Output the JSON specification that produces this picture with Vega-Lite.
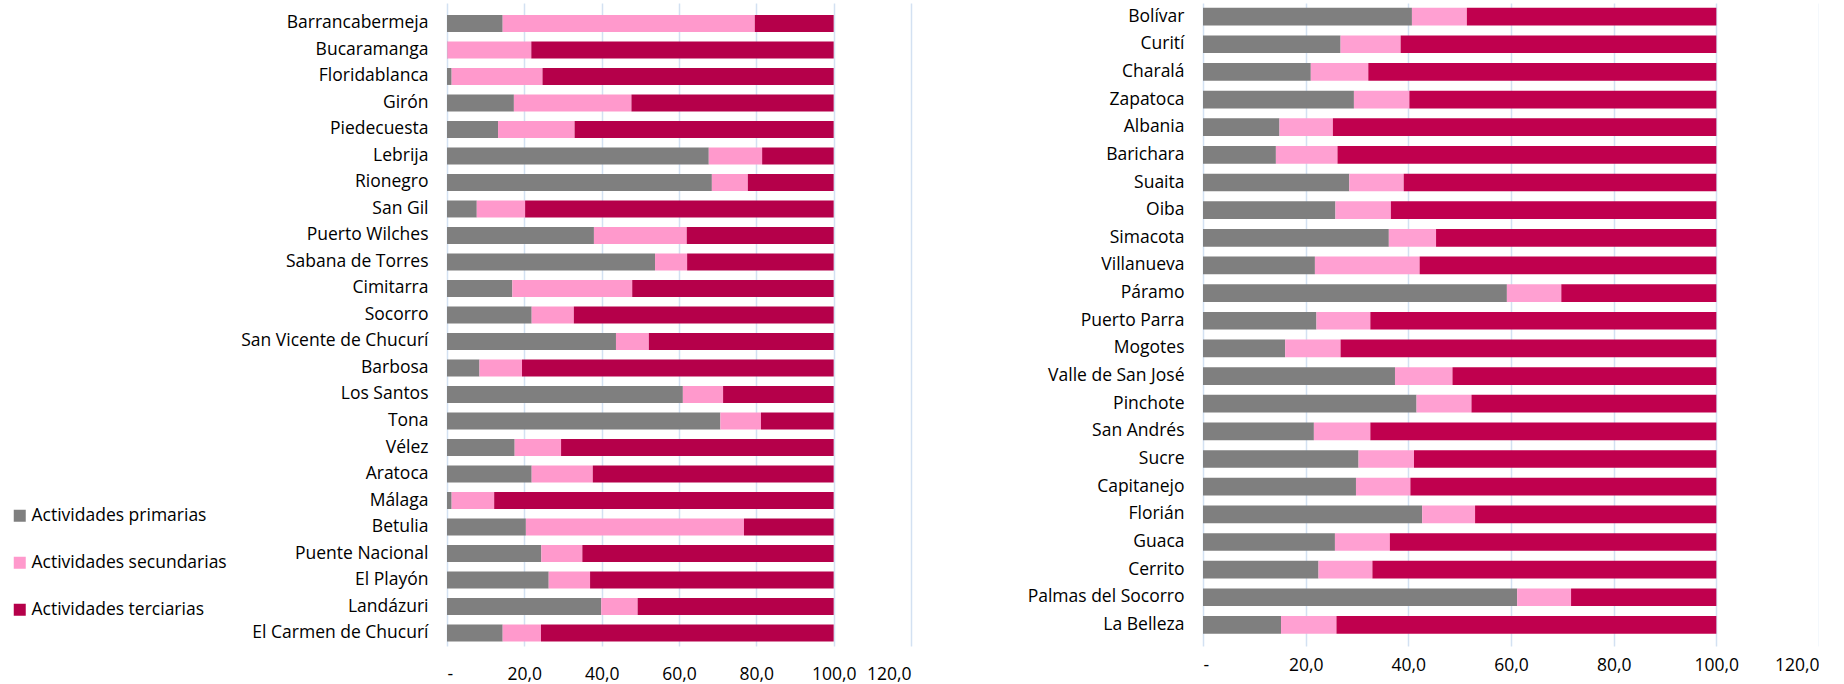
{
  "$schema": "https://vega.github.io/schema/vega-lite/v6.json",
  "padding": {"left": 0, "top": 3, "right": 0, "bottom": 5},
  "background": "white",
  "config": {
    "font": "Open Sans",
    "view": {"stroke": null},
    "axis": {"labelFont": "Open Sans", "labelColor": "#000000", "labelFontSize": 17.5, "labelLimit": 300},
    "legend": {"labelFont": "Open Sans", "labelColor": "#000000", "labelFontSize": 17.5}
  },
  "datasets": {
    "izq": [
      {"m": "Barrancabermeja", "Actividades primarias": 14.4, "Actividades secundarias": 65.2, "Actividades terciarias": 20.4},
      {"m": "Bucaramanga", "Actividades primarias": 0.1, "Actividades secundarias": 21.7, "Actividades terciarias": 78.2},
      {"m": "Floridablanca", "Actividades primarias": 1.2, "Actividades secundarias": 23.5, "Actividades terciarias": 75.3},
      {"m": "Girón", "Actividades primarias": 17.3, "Actividades secundarias": 30.4, "Actividades terciarias": 52.3},
      {"m": "Piedecuesta", "Actividades primarias": 13.2, "Actividades secundarias": 19.8, "Actividades terciarias": 67.0},
      {"m": "Lebrija", "Actividades primarias": 67.7, "Actividades secundarias": 13.8, "Actividades terciarias": 18.5},
      {"m": "Rionegro", "Actividades primarias": 68.5, "Actividades secundarias": 9.3, "Actividades terciarias": 22.2},
      {"m": "San Gil", "Actividades primarias": 7.7, "Actividades secundarias": 12.5, "Actividades terciarias": 79.8},
      {"m": "Puerto Wilches", "Actividades primarias": 38.0, "Actividades secundarias": 24.0, "Actividades terciarias": 38.0},
      {"m": "Sabana de Torres", "Actividades primarias": 53.8, "Actividades secundarias": 8.3, "Actividades terciarias": 37.9},
      {"m": "Cimitarra", "Actividades primarias": 16.9, "Actividades secundarias": 31.0, "Actividades terciarias": 52.1},
      {"m": "Socorro", "Actividades primarias": 21.9, "Actividades secundarias": 10.9, "Actividades terciarias": 67.2},
      {"m": "San Vicente de Chucurí", "Actividades primarias": 43.7, "Actividades secundarias": 8.5, "Actividades terciarias": 47.8},
      {"m": "Barbosa", "Actividades primarias": 8.4, "Actividades secundarias": 11.0, "Actividades terciarias": 80.6},
      {"m": "Los Santos", "Actividades primarias": 61.0, "Actividades secundarias": 10.4, "Actividades terciarias": 28.6},
      {"m": "Tona", "Actividades primarias": 70.7, "Actividades secundarias": 10.5, "Actividades terciarias": 18.8},
      {"m": "Vélez", "Actividades primarias": 17.5, "Actividades secundarias": 12.0, "Actividades terciarias": 70.5},
      {"m": "Aratoca", "Actividades primarias": 21.9, "Actividades secundarias": 15.8, "Actividades terciarias": 62.3},
      {"m": "Málaga", "Actividades primarias": 1.2, "Actividades secundarias": 11.0, "Actividades terciarias": 87.8},
      {"m": "Betulia", "Actividades primarias": 20.4, "Actividades secundarias": 56.4, "Actividades terciarias": 23.2},
      {"m": "Puente Nacional", "Actividades primarias": 24.4, "Actividades secundarias": 10.6, "Actividades terciarias": 65.0},
      {"m": "El Playón", "Actividades primarias": 26.3, "Actividades secundarias": 10.7, "Actividades terciarias": 63.0},
      {"m": "Landázuri", "Actividades primarias": 39.9, "Actividades secundarias": 9.4, "Actividades terciarias": 50.7},
      {"m": "El Carmen de Chucurí", "Actividades primarias": 14.4, "Actividades secundarias": 9.9, "Actividades terciarias": 75.7}
    ],
    "der": [
      {"m": "Bolívar", "Actividades primarias": 40.7, "Actividades secundarias": 10.7, "Actividades terciarias": 48.6},
      {"m": "Curití", "Actividades primarias": 26.8, "Actividades secundarias": 11.7, "Actividades terciarias": 61.5},
      {"m": "Charalá", "Actividades primarias": 21.0, "Actividades secundarias": 11.2, "Actividades terciarias": 67.8},
      {"m": "Zapatoca", "Actividades primarias": 29.4, "Actividades secundarias": 10.8, "Actividades terciarias": 59.8},
      {"m": "Albania", "Actividades primarias": 14.9, "Actividades secundarias": 10.4, "Actividades terciarias": 74.7},
      {"m": "Barichara", "Actividades primarias": 14.2, "Actividades secundarias": 12.0, "Actividades terciarias": 73.8},
      {"m": "Suaita", "Actividades primarias": 28.5, "Actividades secundarias": 10.6, "Actividades terciarias": 60.9},
      {"m": "Oiba", "Actividades primarias": 25.8, "Actividades secundarias": 10.8, "Actividades terciarias": 63.4},
      {"m": "Simacota", "Actividades primarias": 36.2, "Actividades secundarias": 9.2, "Actividades terciarias": 54.6},
      {"m": "Villanueva", "Actividades primarias": 21.8, "Actividades secundarias": 20.4, "Actividades terciarias": 57.8},
      {"m": "Páramo", "Actividades primarias": 59.2, "Actividades secundarias": 10.6, "Actividades terciarias": 30.2},
      {"m": "Puerto Parra", "Actividades primarias": 22.1, "Actividades secundarias": 10.5, "Actividades terciarias": 67.4},
      {"m": "Mogotes", "Actividades primarias": 16.0, "Actividades secundarias": 10.8, "Actividades terciarias": 73.2},
      {"m": "Valle de San José", "Actividades primarias": 37.4, "Actividades secundarias": 11.2, "Actividades terciarias": 51.4},
      {"m": "Pinchote", "Actividades primarias": 41.6, "Actividades secundarias": 10.7, "Actividades terciarias": 47.7},
      {"m": "San Andrés", "Actividades primarias": 21.6, "Actividades secundarias": 11.0, "Actividades terciarias": 67.4},
      {"m": "Sucre", "Actividades primarias": 30.3, "Actividades secundarias": 10.8, "Actividades terciarias": 58.9},
      {"m": "Capitanejo", "Actividades primarias": 29.8, "Actividades secundarias": 10.6, "Actividades terciarias": 59.6},
      {"m": "Florián", "Actividades primarias": 42.7, "Actividades secundarias": 10.3, "Actividades terciarias": 47.0},
      {"m": "Guaca", "Actividades primarias": 25.7, "Actividades secundarias": 10.7, "Actividades terciarias": 63.6},
      {"m": "Cerrito", "Actividades primarias": 22.5, "Actividades secundarias": 10.5, "Actividades terciarias": 67.0},
      {"m": "Palmas del Socorro", "Actividades primarias": 61.2, "Actividades secundarias": 10.5, "Actividades terciarias": 28.3},
      {"m": "La Belleza", "Actividades primarias": 15.2, "Actividades secundarias": 10.8, "Actividades terciarias": 74.0}
    ]
  },
  "spacing": 112,
  "resolve": {"scale": {"color": "independent"}},
  "hconcat": [
    {
      "width": 464,
      "height": 643,
      "data": {"name": "izq"},
      "transform": [{"fold": ["Actividades primarias", "Actividades secundarias", "Actividades terciarias"], "as": ["sector", "valor"]}],
      "mark": {"type": "bar"},
      "encoding": {
        "y": {"field": "m", "type": "nominal", "sort": null, "title": null,
          "scale": {"paddingInner": 0.36, "paddingOuter": 0.311, "align": 0.727},
          "axis": {"ticks": false, "domain": false, "labelPadding": 19, "minExtent": 447, "maxExtent": 447}},
        "x": {"field": "valor", "type": "quantitative", "stack": "zero", "title": null,
          "scale": {"domain": [0, 120], "nice": false},
          "axis": {"values": [0, 20, 40, 60, 80, 100, 120], "ticks": false, "domain": false, "labelPadding": 19,
            "gridColor": "#D3E1F2", "gridWidth": 1.5,
            "labelExpr": "datum.value == 0 ? '-' : replace(format(datum.value, '.1f'), '.', ',')"}},
        "color": {"field": "sector", "type": "nominal", "title": null,
          "scale": {"domain": ["Actividades primarias", "Actividades secundarias", "Actividades terciarias"],
            "range": ["#7F7F7F", "#FF99CC", "#B5004A"]},
          "legend": {"orient": "none", "legendX": -436, "legendY": 504, "symbolType": "square", "symbolSize": 144,
            "symbolStrokeWidth": 0, "labelOffset": 3, "rowPadding": 28, "labelLimit": 400, "direction": "vertical"}}
      }
    },
    {
      "width": 616,
      "height": 643,
      "data": {"name": "der"},
      "transform": [{"fold": ["Actividades primarias", "Actividades secundarias", "Actividades terciarias"], "as": ["sector", "valor"]}],
      "mark": {"type": "bar"},
      "encoding": {
        "y": {"field": "m", "type": "nominal", "sort": null, "title": null,
          "scale": {"paddingInner": 0.36, "paddingOuter": 0.307, "align": 0.28},
          "axis": {"ticks": false, "domain": false, "labelPadding": 19, "minExtent": 180, "maxExtent": 180}},
        "x": {"field": "valor", "type": "quantitative", "stack": "zero", "title": null,
          "scale": {"domain": [0, 120], "nice": false},
          "axis": {"values": [0, 20, 40, 60, 80, 100, 120], "ticks": false, "domain": false, "labelPadding": 10,
            "gridColor": "#D3E1F2", "gridWidth": 1.5,
            "labelExpr": "datum.value == 0 ? '-' : replace(format(datum.value, '.1f'), '.', ',')"}},
        "color": {"field": "sector", "type": "nominal", "title": null,
          "scale": {"domain": ["Actividades primarias", "Actividades secundarias", "Actividades terciarias"],
            "range": ["#7F7F7F", "#FFA0D2", "#C0004E"]},
          "legend": null}
      }
    }
  ]
}
